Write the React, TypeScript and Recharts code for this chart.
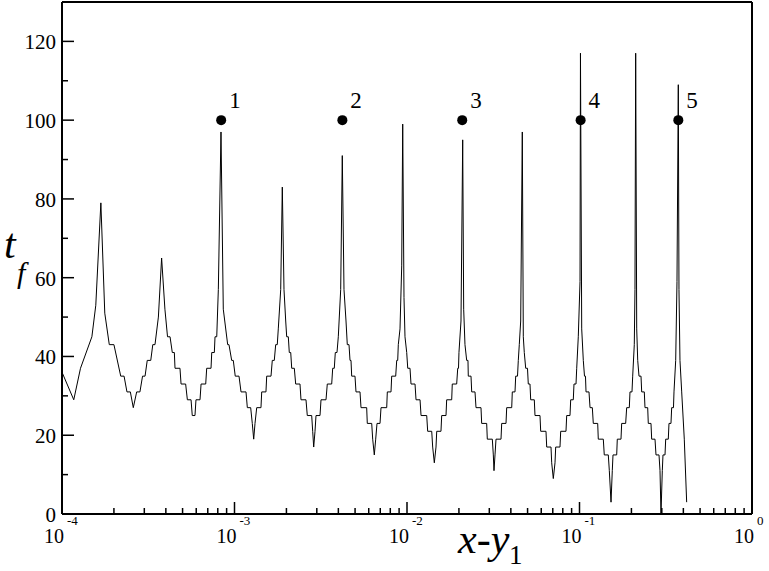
import { ComposedChart, Line, Scatter, XAxis, YAxis, ReferenceLine } from "recharts";

const xValues = [
  1.00e-4, 1.17e-4, 1.28e-4, 1.49e-4, 1.57e-4, 1.68e-4, 1.77e-4, 1.88e-4, 2.00e-4, 2.19e-4,
  2.29e-4, 2.38e-4, 2.49e-4, 2.59e-4, 2.71e-4, 2.83e-4, 2.93e-4, 3.03e-4, 3.12e-4, 3.27e-4,
  3.36e-4, 3.46e-4, 3.62e-4, 3.78e-4, 3.95e-4, 4.09e-4, 4.23e-4, 4.36e-4, 4.48e-4, 4.52e-4,
  4.83e-4, 4.90e-4, 5.21e-4, 5.33e-4, 5.60e-4, 5.69e-4, 5.90e-4, 5.98e-4, 6.31e-4, 6.40e-4,
  6.81e-4, 6.90e-4, 7.31e-4, 7.38e-4, 7.64e-4, 7.71e-4, 7.89e-4, 8.06e-4, 8.35e-4, 8.61e-4,
  9.13e-4, 9.29e-4, 9.63e-4, 9.84e-4, 1.01e-3, 1.062e-3, 1.091e-3, 1.166e-3, 1.187e-3, 1.241e-3,
  1.268e-3, 1.292e-3, 1.315e-3, 1.345e-3, 1.424e-3, 1.438e-3, 1.522e-3, 1.537e-3, 1.628e-3, 1.656e-3,
  1.701e-3, 1.733e-3, 1.770e-3, 1.794e-3, 1.853e-3, 1.893e-3, 1.936e-3, 1.981e-3, 2.007e-3, 2.051e-3,
  2.078e-3, 2.118e-3, 2.146e-3, 2.222e-3, 2.263e-3, 2.397e-3, 2.429e-3, 2.597e-3, 2.642e-3, 2.802e-3,
  2.840e-3, 2.878e-3, 2.929e-3, 2.968e-3, 3.131e-3, 3.173e-3, 3.392e-3, 3.451e-3, 3.660e-3, 3.709e-3,
  3.789e-3, 3.840e-3, 3.928e-3, 3.997e-3, 4.127e-3, 4.216e-3, 4.313e-3, 4.430e-3, 4.507e-3, 4.611e-3,
  4.673e-3, 4.736e-3, 4.780e-3, 4.995e-3, 5.062e-3, 5.340e-3, 5.412e-3, 5.838e-3, 5.886e-3, 6.243e-3,
  6.326e-3, 6.463e-3, 6.585e-3, 6.701e-3, 6.976e-3, 7.069e-3, 7.627e-3, 7.689e-3, 8.077e-3, 8.153e-3,
  8.600e-3, 8.716e-3, 8.833e-3, 8.905e-3, 9.108e-3, 9.318e-3, 9.443e-3, 9.607e-3, 9.736e-3, 9.961e-3,
  1.010e-2, 1.041e-2, 1.055e-2, 1.113e-2, 1.128e-2, 1.190e-2, 1.206e-2, 1.301e-2, 1.318e-2, 1.391e-2,
  1.409e-2, 1.440e-2, 1.473e-2, 1.487e-2, 1.574e-2, 1.589e-2, 1.683e-2, 1.698e-2, 1.816e-2, 1.830e-2,
  1.941e-2, 1.968e-2, 1.989e-2, 2.001e-2, 2.056e-2, 2.103e-2, 2.131e-2, 2.168e-2, 2.218e-2, 2.257e-2,
  2.266e-2, 2.350e-2, 2.372e-2, 2.479e-2, 2.512e-2, 2.685e-2, 2.710e-2, 2.897e-2, 2.921e-2, 3.123e-2,
  3.165e-2, 3.194e-2, 3.237e-2, 3.281e-2, 3.507e-2, 3.540e-2, 3.749e-2, 3.784e-2, 4.046e-2, 4.078e-2,
  4.228e-2, 4.267e-2, 4.371e-2, 4.418e-2, 4.477e-2, 4.561e-2, 4.660e-2, 4.723e-2, 4.786e-2, 4.876e-2,
  4.995e-2, 5.048e-2, 5.164e-2, 5.213e-2, 5.470e-2, 5.521e-2, 5.902e-2, 5.957e-2, 6.394e-2, 6.455e-2,
  6.836e-2, 6.900e-2, 7.049e-2, 7.211e-2, 7.278e-2, 7.707e-2, 7.780e-2, 8.350e-2, 8.429e-2, 8.808e-2,
  8.892e-2, 9.205e-2, 9.292e-2, 9.544e-2, 9.634e-2, 9.840e-2, 1.007e-1, 1.013e-1, 1.030e-1, 1.052e-1,
  1.069e-1, 1.083e-1, 1.091e-1, 1.135e-1, 1.151e-1, 1.187e-1, 1.202e-1, 1.275e-1, 1.285e-1, 1.374e-1,
  1.392e-1, 1.469e-1, 1.489e-1, 1.523e-1, 1.549e-1, 1.564e-1, 1.643e-1, 1.656e-1, 1.740e-1, 1.756e-1,
  1.852e-1, 1.877e-1, 1.944e-1, 1.962e-1, 2.015e-1, 2.034e-1, 2.078e-1, 2.097e-1, 2.117e-1, 2.146e-1,
  2.175e-1, 2.213e-1, 2.273e-1, 2.294e-1, 2.375e-1, 2.397e-1, 2.485e-1, 2.505e-1, 2.597e-1, 2.621e-1,
  2.740e-1, 2.776e-1, 2.890e-1, 2.929e-1, 2.968e-1, 3.020e-1, 3.048e-1, 3.131e-1, 3.160e-1, 3.271e-1,
  3.302e-1, 3.391e-1, 3.423e-1, 3.506e-1, 3.530e-1, 3.611e-1, 3.674e-1, 3.739e-1, 3.773e-1, 3.824e-1,
  3.912e-1, 4.050e-1, 4.181e-1,
];

const tValues = [
  36, 29, 37, 45, 53, 79, 51, 43, 43, 35,
  35, 31, 31, 27, 31, 31, 35, 35, 39, 39,
  43, 43, 50, 65, 52, 45, 45, 41, 41, 37,
  37, 33, 33, 29, 29, 25, 25, 29, 29, 33,
  33, 37, 37, 41, 41, 45, 45, 57, 97, 52,
  43, 43, 39, 39, 35, 35, 31, 31, 27, 27,
  23, 19, 23, 27, 27, 31, 31, 35, 35, 39,
  39, 43, 43, 47, 57, 83, 57, 49, 45, 45,
  41, 41, 37, 37, 33, 33, 29, 29, 25, 25,
  21, 17, 21, 25, 25, 29, 29, 33, 33, 37,
  37, 41, 41, 45, 57, 91, 57, 49, 43, 43,
  39, 39, 35, 35, 31, 31, 27, 27, 23, 23,
  19, 15, 19, 23, 23, 27, 27, 31, 31, 35,
  35, 39, 39, 43, 47, 63, 99, 55, 45, 41,
  37, 37, 33, 33, 29, 29, 25, 25, 21, 21,
  17, 13, 17, 21, 21, 25, 25, 29, 29, 33,
  33, 37, 37, 41, 49, 95, 52, 43, 39, 39,
  35, 35, 31, 31, 27, 27, 23, 23, 19, 19,
  15, 11, 15, 19, 19, 23, 23, 27, 27, 31,
  31, 35, 35, 39, 43, 49, 97, 45, 41, 37,
  37, 33, 33, 29, 29, 25, 25, 21, 21, 17,
  17, 13, 9, 13, 17, 17, 21, 21, 25, 25,
  29, 29, 33, 33, 37, 45, 59, 117, 47, 39,
  35, 35, 31, 31, 27, 27, 23, 23, 19, 19,
  15, 15, 11, 3, 11, 15, 15, 19, 19, 23,
  23, 27, 27, 31, 31, 35, 43, 57, 117, 47,
  39, 35, 35, 31, 31, 27, 27, 23, 23, 19,
  19, 15, 15, 11, 0, 11, 15, 15, 19, 19,
  23, 23, 27, 27, 31, 39, 59, 109, 57, 39,
  31, 19, 3,
];

// numbered markers
const markX = [8.37e-4, 4.22e-3, 2.09e-2, 1.015e-1, 3.74e-1];
const markT = [100, 100, 100, 100, 100];
const markLabels = ["1", "2", "3", "4", "5"];

// axes
const xDecades = [1e-4, 1e-3, 1e-2, 1e-1, 1];
const xDecadeExps = ["-4", "-3", "-2", "-1", "0"];
const xMinorMult = [2, 3, 4, 5, 6, 7, 8, 9];
const yTicks = [0, 10, 20, 30, 40, 50, 60, 70, 80, 90, 100, 110, 120];
const yLabelTicks = [0, 20, 40, 60, 80, 100, 120];

const curve = xValues.map((x, i) => ({ x, t: tValues[i] }));
const marks = markX.map((x, i) => ({ x, t: markT[i], label: markLabels[i] }));
const xTicks = [
  ...xDecades,
  ...xDecades.slice(0, -1).flatMap((d) => xMinorMult.map((m) => m * d)),
].sort((a, b) => a - b);

const serif = {
  fontFamily: "'Liberation Serif', 'DejaVu Serif', 'Noto Serif', 'Times New Roman', Times, serif",
};
const serifItalic = { ...serif, fontStyle: "italic" as const };

function decadeIndex(v: number) {
  return xDecades.findIndex((d) => Math.abs(Math.log10(d) - Math.log10(v)) < 1e-6);
}

function BottomTick({ x, y, payload }: any) {
  const idx = decadeIndex(payload.value);
  const major = idx >= 0;
  return (
    <g>
      <line x1={x} x2={x} y1={y} y2={y - (major ? 12 : 6)} stroke="#000" strokeWidth={1.5} />
      {major && (
        <>
          <text x={x + 2} y={y + 29} textAnchor="end" style={serif} fontSize={20} fill="#000">
            10
          </text>
          <text x={x + 5} y={y + 11} textAnchor="start" style={serif} fontSize={13} fill="#000">
            {xDecadeExps[idx]}
          </text>
        </>
      )}
    </g>
  );
}

function TopTick({ x, y, payload }: any) {
  const major = decadeIndex(payload.value) >= 0;
  return <line x1={x} x2={x} y1={y} y2={y + (major ? 12 : 6)} stroke="#000" strokeWidth={1.5} />;
}

function LeftTick({ x, y, payload }: any) {
  const v = payload.value;
  const major = yLabelTicks.includes(v);
  return (
    <g>
      <line x1={x} x2={x + (major ? 12 : 6)} y1={y} y2={y} stroke="#000" strokeWidth={1.5} />
      {major && (
        <text x={x - 6} y={y + 8} textAnchor="end" style={serif} fontSize={21} fill="#000">
          {v}
        </text>
      )}
    </g>
  );
}

function MarkShape({ cx, cy, payload }: any) {
  return (
    <g>
      <circle cx={cx} cy={cy} r={5} fill="#000" />
      <text x={cx + 8} y={cy - 12} style={serif} fontSize={23} fill="#000">
        {payload.label}
      </text>
    </g>
  );
}

export default function App() {
  return (
    <div style={{ position: "absolute", left: 0, top: 0, width: 769, height: 571, background: "#fff" }}>
      <ComposedChart width={769} height={571} margin={{ top: 1, right: 17, bottom: 0, left: 0 }}>
        <XAxis
          dataKey="x"
          type="number"
          scale="log"
          domain={[1e-4, 1]}
          allowDataOverflow
          ticks={xTicks}
          interval={0}
          height={57}
          tickSize={0}
          tickMargin={0}
          tickLine={false}
          axisLine={{ stroke: "#000", strokeWidth: 2 }}
          tick={(p: any) => <BottomTick {...p} />}
        />
        <XAxis
          xAxisId="top"
          orientation="top"
          type="number"
          scale="log"
          domain={[1e-4, 1]}
          allowDataOverflow
          ticks={xTicks}
          interval={0}
          height={1}
          tickSize={0}
          tickMargin={0}
          tickLine={false}
          axisLine={{ stroke: "#000", strokeWidth: 2 }}
          tick={(p: any) => <TopTick {...p} />}
        />
        <YAxis
          dataKey="t"
          type="number"
          domain={[0, 130]}
          allowDataOverflow
          ticks={yTicks}
          interval={0}
          width={62}
          tickSize={0}
          tickMargin={0}
          tickLine={false}
          axisLine={{ stroke: "#000", strokeWidth: 2 }}
          tick={(p: any) => <LeftTick {...p} />}
        />
        <ReferenceLine x={1} stroke="#000" strokeWidth={2} />
        <Line
          data={curve}
          dataKey="t"
          type="linear"
          stroke="#000"
          strokeWidth={1}
          dot={false}
          activeDot={false}
          isAnimationActive={false}
        />
        <Scatter data={marks} dataKey="t" shape={(p: any) => <MarkShape {...p} />} isAnimationActive={false} />
      </ComposedChart>
      <svg
        width={769}
        height={571}
        style={{ position: "absolute", left: 0, top: 0, pointerEvents: "none" }}
      >
        <text x={4} y={258} style={serifItalic} fontSize={42} fill="#000">
          t
        </text>
        <text x={17} y={283} style={serifItalic} fontSize={30} fill="#000">
          f
        </text>
        <text x={458} y={553} style={serifItalic} fontSize={42} fill="#000">
          x-y
        </text>
        <text x={509} y={564} style={serif} fontSize={27} fill="#000">
          1
        </text>
      </svg>
    </div>
  );
}
